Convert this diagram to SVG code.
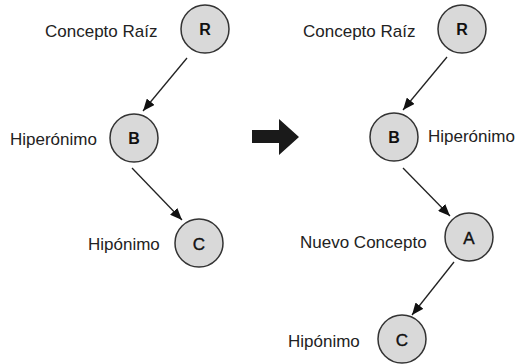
<svg xmlns="http://www.w3.org/2000/svg" width="517" height="364" viewBox="0 0 517 364">
  <style>
    .node circle { fill: #d9d9d9; stroke: #333; stroke-width: 1.5; }
    .lbl { font-family: "Liberation Sans", Arial, sans-serif; font-size: 17px; fill: #222; }
    .ltr { font-family: "Liberation Sans", Arial, sans-serif; font-size: 17px; fill: #111; stroke: #111; stroke-width: 0.4; text-anchor: middle; dominant-baseline: central; }
    .b { font-weight: bold; font-size: 16px; stroke: none; }
    .edge { stroke: #222; stroke-width: 1.3; fill: none; marker-end: url(#head); }
  </style>
  <defs>
    <marker id="head" viewBox="0 0 12 10" refX="12" refY="5" markerWidth="12" markerHeight="10" markerUnits="userSpaceOnUse" orient="auto">
      <path d="M0,0 L12,5 L0,10 Z" fill="#111"/>
    </marker>
  </defs>

  <rect width="517" height="364" fill="#fff"/>

  <!-- connectors -->
  <g id="connectors">
    <line class="edge" x1="187" y1="58" x2="143" y2="111"/>
    <line class="edge" x1="132" y1="168" x2="182" y2="220"/>
    <line class="edge" x1="447" y1="57" x2="403" y2="110"/>
    <line class="edge" x1="403" y1="168" x2="450" y2="216"/>
    <line class="edge" x1="454" y1="262" x2="412" y2="315"/>
    <!-- transformation arrow -->
    <path d="M252,130 H279 V119 L299,137 L279,155 V143 H252 Z" fill="#1a1a1a"/>
  </g>

  <!-- left tree -->
  <g id="l-root" class="node">
    <circle cx="205" cy="29" r="24"/>
    <text class="ltr b" x="205" y="29">R</text>
    <text class="lbl" x="45" y="37">Concepto Raíz</text>
  </g>
  <g id="l-hyper" class="node">
    <circle cx="134" cy="138" r="24"/>
    <text class="ltr b" x="134" y="138">B</text>
    <text class="lbl" x="10" y="145">Hiperónimo</text>
  </g>
  <g id="l-hypo" class="node">
    <circle cx="199" cy="243" r="24"/>
    <text class="ltr" x="199" y="244">C</text>
    <text class="lbl" x="88" y="250">Hipónimo</text>
  </g>

  <!-- right tree -->
  <g id="r-root" class="node">
    <circle cx="462" cy="29" r="24"/>
    <text class="ltr b" x="462" y="29">R</text>
    <text class="lbl" x="303" y="37">Concepto Raíz</text>
  </g>
  <g id="r-hyper" class="node">
    <circle cx="394" cy="137" r="24"/>
    <text class="ltr b" x="394" y="137">B</text>
    <text class="lbl" x="428" y="142">Hiperónimo</text>
  </g>
  <g id="r-new" class="node">
    <circle cx="469" cy="237" r="24"/>
    <text class="ltr" x="469" y="238">A</text>
    <text class="lbl" x="300" y="248">Nuevo Concepto</text>
  </g>
  <g id="r-hypo" class="node">
    <circle cx="402" cy="339" r="24"/>
    <text class="ltr" x="402" y="340">C</text>
    <text class="lbl" x="288" y="347">Hipónimo</text>
  </g>
</svg>
